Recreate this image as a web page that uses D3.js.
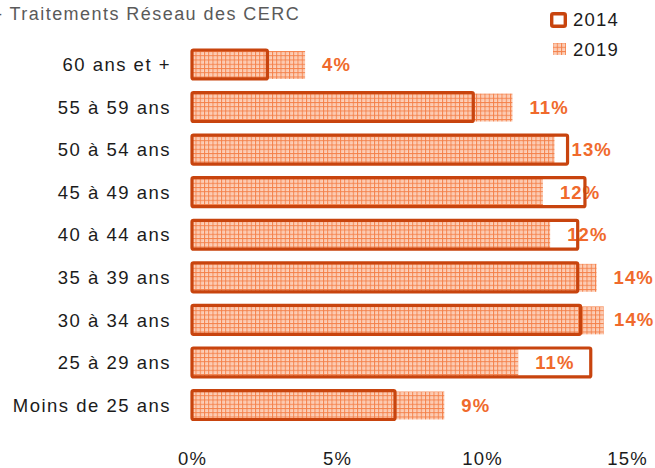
<!DOCTYPE html>
<html>
<head>
<meta charset="utf-8">
<script src="https://cdn.jsdelivr.net/npm/d3@7"></script>
<style>
  html, body { margin: 0; padding: 0; background: #fff; }
  svg { display: block; font-family: "Liberation Sans", Arial, sans-serif; }
</style>
</head>
<body>
<svg id="chart" width="655" height="468"></svg>
<script>
// Age groups, top to bottom
const categories = ["60 ans et +", "55 à 59 ans", "50 à 54 ans", "45 à 49 ans", "40 à 44 ans",
                    "35 à 39 ans", "30 à 34 ans", "25 à 29 ans", "Moins de 25 ans"];
// Share of each age group (%)
const values2014 = [2.6, 9.7, 12.95, 13.55, 13.3, 13.3, 13.4, 13.75, 7.0];
const values2019 = [3.9, 11.05, 12.5, 12.1, 12.35, 13.95, 14.2, 11.25, 8.7];
const seriesNames = ["2014", "2019"];
const tickValues = [0, 5, 10, 15];
const titleText = "- Traitements Réseau des CERC";

const outlineColor = "#C8440E";
const labelColor = "#F06A2C";
const textColor = "#1b1b1b";

const svg = d3.select("#chart");

// Grid hatch used for the 2019 bars
const defs = svg.append("defs");
const pat = defs.append("pattern")
  .attr("id", "grid")
  .attr("patternUnits", "userSpaceOnUse")
  .attr("width", 4.25).attr("height", 4.25);
pat.append("rect").attr("width", 4.25).attr("height", 4.25).attr("fill", "#FDD3BE");
pat.append("rect").attr("x", 2).attr("y", 2).attr("width", 1).attr("height", 1).attr("fill", "#F9B797");
pat.append("rect").attr("x", 0).attr("y", 0).attr("width", 1).attr("height", 4.25).attr("fill", "#F48049");
pat.append("rect").attr("x", 0).attr("y", 0).attr("width", 4.25).attr("height", 1).attr("fill", "#F48049");

const x = d3.scaleLinear().domain([0, 15]).range([192, 627]);
const y = d3.scaleBand().domain(categories).range([43.2, 426.3]).paddingInner(0.32).paddingOuter(0.16);
const bw = y.bandwidth();
// value labels are kept inside the plot area on the right
const labelMaxX = 614;

// Title
svg.append("text")
  .attr("x", -4).attr("y", 20)
  .attr("font-size", 18).attr("fill", "#5a5a5a")
  .attr("letter-spacing", 1.45)
  .text(titleText);

// 2019 bars (hatched)
svg.append("g").selectAll("rect")
  .data(categories)
  .join("rect")
  .attr("x", x(0))
  .attr("y", d => y(d) + 1)
  .attr("width", (d, i) => x(values2019[i]) - x(0))
  .attr("height", bw - 1)
  .attr("fill", "url(#grid)");

// Value labels (2019)
svg.append("g").selectAll("text")
  .data(categories)
  .join("text")
  .attr("x", (d, i) => Math.min(x(values2019[i]) + 17, labelMaxX))
  .attr("y", d => y(d) + bw / 2 + 6.5)
  .attr("font-size", 18.5).attr("font-weight", "bold")
  .attr("letter-spacing", 1.1)
  .attr("fill", labelColor)
  .text((d, i) => Math.round(values2019[i]) + "%");

// 2014 bars (outlined)
svg.append("g").selectAll("rect")
  .data(categories)
  .join("rect")
  .attr("x", x(0))
  .attr("y", d => y(d))
  .attr("width", (d, i) => x(values2014[i]) - x(0))
  .attr("height", bw)
  .attr("rx", 1.5)
  .attr("fill", "none")
  .attr("stroke", outlineColor)
  .attr("stroke-width", 3.2);

// Category axis
const yAxis = svg.append("g")
  .attr("transform", "translate(171,0)")
  .call(d3.axisLeft(y).tickSize(0).tickPadding(0));
yAxis.select(".domain").remove();
yAxis.selectAll("text")
  .attr("font-size", 18.5).attr("fill", textColor)
  .attr("font-family", "Liberation Sans, Arial, sans-serif")
  .attr("letter-spacing", 1.5)
  .attr("dy", "0.36em");

// Value axis
const xAxis = svg.append("g")
  .attr("transform", "translate(0,452)")
  .call(d3.axisBottom(x).tickValues(tickValues).tickFormat(d => d + "%").tickSize(0).tickPadding(0));
xAxis.select(".domain").remove();
xAxis.selectAll("text")
  .attr("font-size", 18.5).attr("fill", textColor)
  .attr("font-family", "Liberation Sans, Arial, sans-serif")
  .attr("letter-spacing", 1.2);

// Legend
const legend = svg.append("g");
legend.append("rect")
  .attr("x", 551.7).attr("y", 13.7).attr("width", 13.6).attr("height", 12.6)
  .attr("rx", 1.5)
  .attr("fill", "#fff").attr("stroke", outlineColor).attr("stroke-width", 3.4);
legend.append("rect")
  .attr("x", 553).attr("y", 43).attr("width", 13).attr("height", 12)
  .attr("fill", "url(#grid)");
legend.selectAll("text.lg")
  .data(seriesNames)
  .join("text")
  .attr("class", "lg")
  .attr("x", 573)
  .attr("y", (d, i) => 26 + i * 30)
  .attr("font-size", 18.5).attr("fill", textColor)
  .attr("letter-spacing", 1.2)
  .text(d => d);
</script>
</body>
</html>
